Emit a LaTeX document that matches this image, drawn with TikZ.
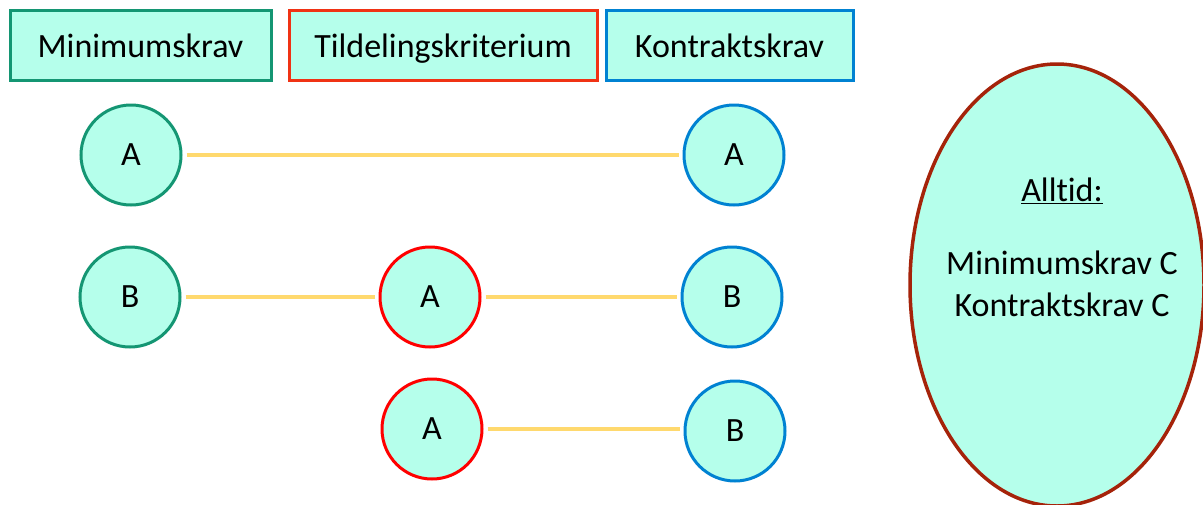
\documentclass[tikz,border=0pt]{standalone}
\usepackage{fontspec}
\setmainfont{Carlito}[Ligatures=NoCommon]
\usetikzlibrary{shapes.geometric}
\definecolor{fillc}{RGB}{181,255,235}
\definecolor{grn}{RGB}{20,150,115}
\definecolor{rbox}{RGB}{240,50,20}
\definecolor{rcirc}{RGB}{255,0,0}
\definecolor{blu}{RGB}{0,130,210}
\definecolor{ell}{RGB}{165,35,10}
\definecolor{lin}{RGB}{255,217,110}
\newcommand{\bigf}{\fontsize{34}{42}\selectfont}
\tikzset{
  hdr/.style={draw, line width=3pt, fill=fillc, minimum height=70pt, inner sep=0pt, text height=26pt, text depth=2pt, font=\bigf},
  circ/.style={circle, draw, line width=3pt, fill=fillc, minimum size=100pt, inner sep=0pt, font=\bigf},
  conn/.style={draw=lin, line width=4.5pt, shorten <=4pt, shorten >=4pt},
}
\begin{document}
\begin{tikzpicture}[x=1pt,y=-1pt]
\clip (0,0) rectangle (1203,504);
\fill[white] (0,0) rectangle (1203,504);
\node[hdr, draw=grn, minimum width=261pt] (h1) at (140.5,45) {Minimumskrav};
\node[hdr, draw=rbox, minimum width=308pt] (h2) at (443,45) {Tildelingskriterium};
\node[hdr, draw=blu, minimum width=247pt] (h3) at (729.5,45) {Kontraktskrav};

\node[circ, draw=grn] (g1) at (131,155) {A};
\node[circ, draw=blu] (b1) at (734,155) {A};
\node[circ, draw=grn] (g2) at (130,297) {B};
\node[circ, draw=rcirc] (r2) at (430,297) {A};
\node[circ, draw=blu] (b2) at (732,297) {B};
\node[circ, draw=rcirc] (r3) at (432,429) {A};
\node[circ, draw=blu] (b3) at (735,431) {B};

\draw[conn] (g1) -- (b1);
\draw[conn] (g2) -- (r2);
\draw[conn] (r2) -- (b2);
\draw[conn] (r3.east) -- (b3.west |- r3.east);

\node[ellipse, draw=ell, line width=3.5pt, fill=fillc, minimum width=294pt, minimum height=442pt, inner sep=0pt] (e) at (1057,285) {};
\node[font=\bigf] (t0) at (1062,191) {\underline{Alltid:}};
\node[font=\bigf, align=center] (t1) at (1062,284) {Minimumskrav C\\Kontraktskrav C};
\end{tikzpicture}
\end{document}
